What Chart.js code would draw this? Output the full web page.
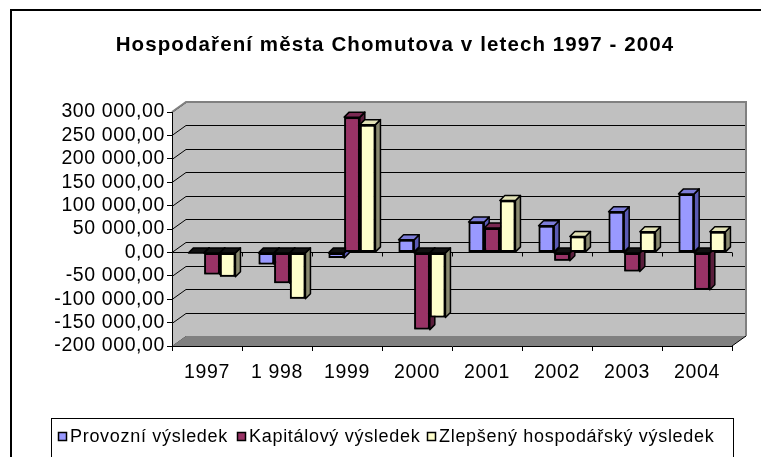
<!DOCTYPE html>
<html><head><meta charset="utf-8">
<script src="https://cdn.jsdelivr.net/npm/chart.js@4.4.0/dist/chart.umd.min.js"></script>
<style>html,body{margin:0;padding:0;background:#fff;}canvas{display:block}</style>
</head><body>
<canvas id="c" width="761" height="457"></canvas>
<script>
// ---- data ----
const categories = ['1997', '1 998', '1999', '2000', '2001', '2002', '2003', '2004'];
const provozniVysledek   = [-1500, -26000, -12000, 27000, 65000, 57000, 87000, 125000];
const kapitalovyVysledek = [-47000, -66000, 289000, -165000, 52000, -18000, -41000, -80000];
const zlepsenyVysledek   = [-52000, -99000, 273000, -139000, 111000, 34000, 44000, 44000];
const seriesNames = ['Provozní výsledek', 'Kapitálový výsledek', 'Zlepšený hospodářský výsledek'];
const titleText = 'Hospodaření města Chomutova v letech 1997 - 2004';
const yMin = -200000, yMax = 300000, yStep = 50000;

// ---- styles ----
const FONT = '"Liberation Sans", Arial, sans-serif';
const frontColors = ['#9999FF', '#993366', '#FFFFCC'];
const sideColors  = ['#5A5AB4', '#5A1E3C', '#8A8A70'];
const topColors   = ['#7C7CD8', '#7A2952', '#E2E2B6'];
const WALL_DX = 14, WALL_DY = -10, BAR_DX = 5, BAR_DY = -5, BAR_SHIFT = 5;

function fmt(v) {
  const neg = v < 0;
  const s = Math.abs(v).toFixed(2).split('.');
  const int = s[0].replace(/\B(?=(\d{3})+(?!\d))/g, ' ');
  return (neg ? '-' : '') + int + ',' + s[1];
}

const scene = {
  id: 'scene',
  beforeDraw(chart) {
    const ctx = chart.ctx, a = chart.chartArea, ys = chart.scales.y;
    ctx.save();
    ctx.fillStyle = '#fff';
    ctx.fillRect(0, 0, chart.width, chart.height);
    ctx.strokeStyle = '#000'; ctx.lineWidth = 2;
    ctx.beginPath(); ctx.moveTo(11, chart.height); ctx.lineTo(11, 10); ctx.lineTo(chart.width, 10); ctx.stroke();
    const bl = a.left + WALL_DX, br = a.right + WALL_DX, bt = a.top + WALL_DY, bb = a.bottom + WALL_DY;
    ctx.fillStyle = '#C0C0C0';
    ctx.fillRect(bl, bt, br - bl, bb - bt);
    ctx.beginPath(); ctx.moveTo(a.left, a.top); ctx.lineTo(bl, bt); ctx.lineTo(bl, bb); ctx.lineTo(a.left, a.bottom); ctx.closePath(); ctx.fill();
    ctx.strokeStyle = '#000'; ctx.lineWidth = 1;
    ys.ticks.forEach(t => {
      const py = Math.round(ys.getPixelForValue(t.value)) + 0.5;
      ctx.beginPath(); ctx.moveTo(a.left, py); ctx.lineTo(bl, py + WALL_DY); ctx.lineTo(br, py + WALL_DY); ctx.stroke();
    });
    ctx.fillStyle = '#808080';
    ctx.beginPath(); ctx.moveTo(a.left, a.bottom); ctx.lineTo(bl, bb); ctx.lineTo(br, bb); ctx.lineTo(a.right, a.bottom); ctx.closePath(); ctx.fill();
    ctx.strokeStyle = '#000'; ctx.lineWidth = 1;
    ctx.beginPath(); ctx.moveTo(a.right, a.bottom); ctx.lineTo(br, bb); ctx.stroke();
    ctx.strokeStyle = '#808080'; ctx.lineWidth = 2;
    ctx.beginPath(); ctx.moveTo(a.left, a.top); ctx.lineTo(bl, bt); ctx.lineTo(br, bt); ctx.lineTo(br, bb); ctx.stroke();
    ctx.restore();
    ctx.letterSpacing = '0.6px';
  },
  beforeDatasetsDraw(chart) {
    const ctx = chart.ctx, a = chart.chartArea, ys = chart.scales.y;
    ctx.letterSpacing = '0px';
    const py0 = Math.round(ys.getPixelForValue(0)) + 0.5;
    ctx.save();
    ctx.strokeStyle = '#000'; ctx.lineWidth = 1;
    ctx.beginPath(); ctx.moveTo(a.left, py0); ctx.lineTo(a.right, py0); ctx.stroke();
    const n = categories.length;
    for (let i = 0; i <= n; i++) {
      const x = Math.round(a.left + i * (a.right - a.left) / n) + 0.5;
      ctx.beginPath(); ctx.moveTo(x, py0); ctx.lineTo(x, py0 + 4); ctx.stroke();
    }
    ctx.restore();
    ctx.save();
    ctx.translate(BAR_SHIFT, 0);
  },
  afterDatasetsDraw(chart) {
    const ctx = chart.ctx;
    chart.data.datasets.forEach((ds, di) => {
      const meta = chart.getDatasetMeta(di);
      meta.data.forEach((el, i) => {
        el.draw(ctx);
        const p = el.getProps(['x', 'y', 'base', 'width'], true);
        const l = p.x - p.width / 2, r = p.x + p.width / 2;
        const top = Math.min(p.y, p.base), bot = Math.max(p.y, p.base);
        const v = ds.data[i];
        ctx.save();
        ctx.strokeStyle = '#000'; ctx.lineWidth = 1.5; ctx.lineJoin = 'round';
        ctx.fillStyle = sideColors[di];
        ctx.beginPath(); ctx.moveTo(r, top); ctx.lineTo(r + BAR_DX, top + BAR_DY); ctx.lineTo(r + BAR_DX, bot + BAR_DY); ctx.lineTo(r, bot); ctx.closePath();
        ctx.fill(); ctx.stroke();
        ctx.fillStyle = v >= 0 ? topColors[di] : '#111';
        ctx.beginPath(); ctx.moveTo(l, top); ctx.lineTo(l + BAR_DX, top + BAR_DY); ctx.lineTo(r + BAR_DX, top + BAR_DY); ctx.lineTo(r, top); ctx.closePath();
        ctx.fill(); ctx.stroke();
        ctx.restore();
      });
    });
    ctx.restore();
  },
  afterDraw(chart) {
    const ctx = chart.ctx;
    ctx.save();
    ctx.letterSpacing = '1.1px';
    ctx.fillStyle = '#000';
    ctx.font = 'bold 20.5px ' + FONT;
    ctx.textAlign = 'center'; ctx.textBaseline = 'alphabetic';
    ctx.fillText(titleText, 395, 51);
    ctx.letterSpacing = '0.7px';
    ctx.strokeStyle = '#000'; ctx.lineWidth = 1;
    ctx.strokeRect(51.5, 418.5, 682, 60);
    ctx.font = '18px ' + FONT;
    ctx.textAlign = 'left'; ctx.textBaseline = 'middle';
    const xs = [58, 237, 427];
    seriesNames.forEach((name, i) => {
      ctx.fillStyle = frontColors[i];
      ctx.fillRect(xs[i] + 0.5, 432.5, 8, 8);
      ctx.lineWidth = 1.5; ctx.strokeStyle = '#000';
      ctx.strokeRect(xs[i] + 0.5, 432.5, 8, 8);
      ctx.fillStyle = '#000';
      ctx.fillText(name, xs[i] + 12, 437);
    });
    ctx.restore();
    ctx.letterSpacing = '0px';
  }
};

new Chart(document.getElementById('c'), {
  type: 'bar',
  data: {
    labels: categories,
    datasets: [
      { label: seriesNames[0], data: provozniVysledek,   backgroundColor: frontColors[0] },
      { label: seriesNames[1], data: kapitalovyVysledek, backgroundColor: frontColors[1] },
      { label: seriesNames[2], data: zlepsenyVysledek,   backgroundColor: frontColors[2] }
    ]
  },
  options: {
    responsive: false,
    animation: false,
    devicePixelRatio: 1,
    layout: { padding: { left: 10, right: 29, top: 112, bottom: 71 } },
    datasets: { bar: { borderColor: '#000', borderWidth: 2, categoryPercentage: 0.67, barPercentage: 1, borderSkipped: false } },
    plugins: { legend: { display: false }, title: { display: false }, tooltip: { enabled: false } },
    scales: {
      x: {
        afterFit(s) { s.height = 40; },
        grid: { drawOnChartArea: false, color: '#000', tickLength: 5, offset: true },
        border: { color: '#000', width: 1 },
        ticks: { color: '#000', font: { family: FONT, size: 19.5 }, padding: 10, maxRotation: 0, autoSkip: false }
      },
      y: {
        min: yMin, max: yMax,
        afterFit(s) { s.width = 162; },
        grid: { drawOnChartArea: false, color: '#000', tickLength: 5 },
        border: { color: '#000', width: 1 },
        ticks: { stepSize: yStep, autoSkip: false, color: '#000', font: { family: FONT, size: 19.5 }, padding: 2, callback: v => fmt(v) }
      }
    }
  },
  plugins: [scene]
});
</script>
</body></html>
